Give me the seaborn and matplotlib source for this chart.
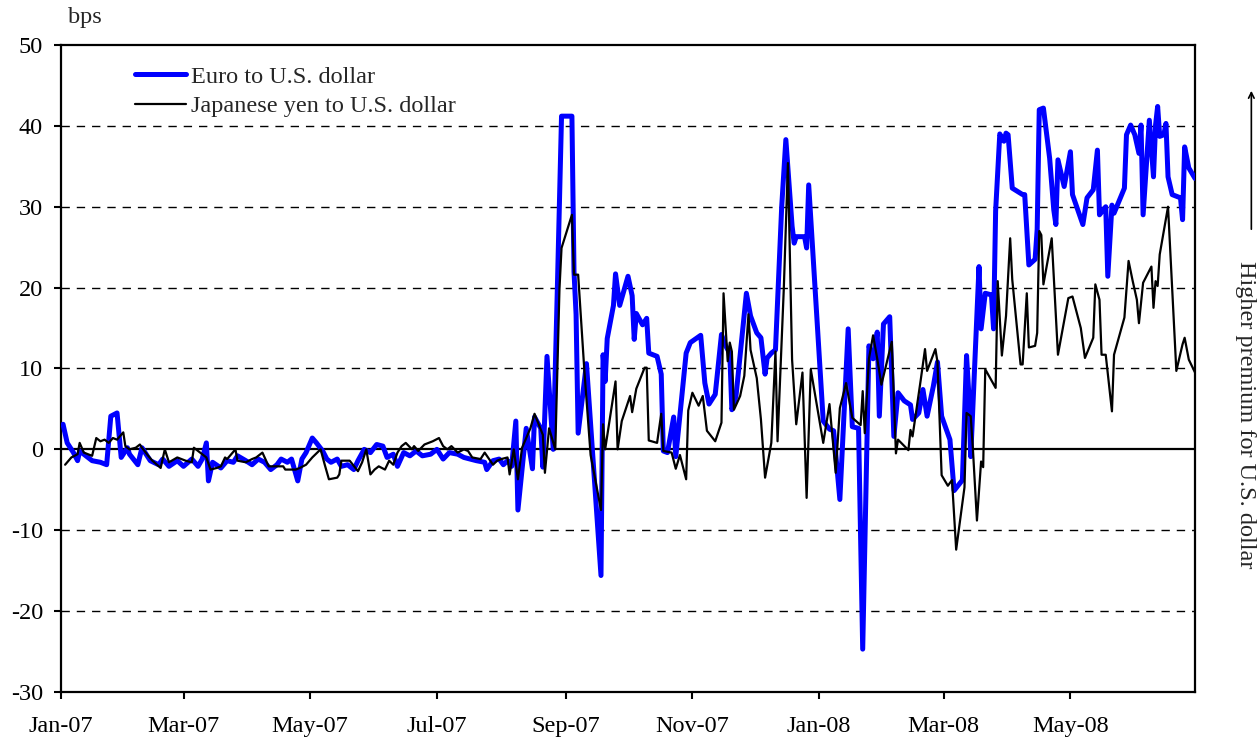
import pandas as pd
import matplotlib.pyplot as plt
import matplotlib.dates as mdates
import seaborn as sns

# Euro to U.S. dollar (bps)
euro_dates = [
    '2007-01-02', '2007-01-04', '2007-01-07', '2007-01-09', '2007-01-10', '2007-01-11', '2007-01-14',
    '2007-01-16', '2007-01-20', '2007-01-23', '2007-01-25', '2007-01-28', '2007-01-30', '2007-02-02',
    '2007-02-03', '2007-02-07', '2007-02-09', '2007-02-13', '2007-02-17', '2007-02-19', '2007-02-22',
    '2007-02-26', '2007-03-01', '2007-03-05', '2007-03-08', '2007-03-10', '2007-03-12', '2007-03-13',
    '2007-03-15', '2007-03-19', '2007-03-22', '2007-03-25', '2007-03-27', '2007-03-31', '2007-04-03',
    '2007-04-06', '2007-04-09', '2007-04-12', '2007-04-15', '2007-04-17', '2007-04-20', '2007-04-22',
    '2007-04-25', '2007-04-27', '2007-04-29', '2007-05-02', '2007-05-04', '2007-05-07', '2007-05-09',
    '2007-05-11', '2007-05-14', '2007-05-16', '2007-05-19', '2007-05-22', '2007-05-24', '2007-05-27',
    '2007-05-30', '2007-06-02', '2007-06-05', '2007-06-07', '2007-06-10', '2007-06-12', '2007-06-15',
    '2007-06-18', '2007-06-21', '2007-06-24', '2007-06-28', '2007-07-01', '2007-07-04', '2007-07-07',
    '2007-07-11', '2007-07-14', '2007-07-17', '2007-07-20', '2007-07-24', '2007-07-25', '2007-07-28',
    '2007-07-31', '2007-08-02', '2007-08-04', '2007-08-06', '2007-08-08', '2007-08-09', '2007-08-13',
    '2007-08-16', '2007-08-17', '2007-08-20', '2007-08-21', '2007-08-23', '2007-08-26', '2007-08-28',
    '2007-08-30', '2007-09-04', '2007-09-05', '2007-09-06', '2007-09-07', '2007-09-11', '2007-09-18',
    '2007-09-19', '2007-09-20', '2007-09-21', '2007-09-24', '2007-09-25', '2007-09-27', '2007-10-01',
    '2007-10-03', '2007-10-04', '2007-10-05', '2007-10-08', '2007-10-10', '2007-10-11', '2007-10-15',
    '2007-10-17', '2007-10-18', '2007-10-20', '2007-10-23', '2007-10-24', '2007-10-29', '2007-10-31',
    '2007-11-05', '2007-11-07', '2007-11-09', '2007-11-12', '2007-11-15', '2007-11-17', '2007-11-19',
    '2007-11-20', '2007-11-22', '2007-11-27', '2007-11-29', '2007-12-02', '2007-12-04', '2007-12-06',
    '2007-12-07', '2007-12-09', '2007-12-11', '2007-12-14', '2007-12-16', '2007-12-19', '2007-12-20',
    '2007-12-21', '2007-12-25', '2007-12-26', '2007-12-27', '2007-12-30', '2008-01-03', '2008-01-06',
    '2008-01-08', '2008-01-11', '2008-01-15', '2008-01-17', '2008-01-20', '2008-01-22', '2008-01-25',
    '2008-01-27', '2008-01-29', '2008-01-30', '2008-02-01', '2008-02-04', '2008-02-06', '2008-02-08',
    '2008-02-11', '2008-02-14', '2008-02-15', '2008-02-18', '2008-02-20', '2008-02-22', '2008-02-25',
    '2008-02-27', '2008-02-29', '2008-03-04', '2008-03-06', '2008-03-10', '2008-03-12', '2008-03-13',
    '2008-03-14', '2008-03-18', '2008-03-19', '2008-03-21', '2008-03-24', '2008-03-25', '2008-03-26',
    '2008-03-28', '2008-03-30', '2008-03-31', '2008-04-01', '2008-04-03', '2008-04-08', '2008-04-09',
    '2008-04-11', '2008-04-14', '2008-04-15', '2008-04-16', '2008-04-18', '2008-04-21', '2008-04-23',
    '2008-04-24', '2008-04-25', '2008-04-28', '2008-05-01', '2008-05-02', '2008-05-07', '2008-05-09',
    '2008-05-12', '2008-05-14', '2008-05-15', '2008-05-18', '2008-05-19', '2008-05-21', '2008-05-22',
    '2008-05-27', '2008-05-28', '2008-05-30', '2008-06-01', '2008-06-03', '2008-06-04', '2008-06-05',
    '2008-06-08', '2008-06-10', '2008-06-11', '2008-06-12', '2008-06-13', '2008-06-15', '2008-06-16',
    '2008-06-17', '2008-06-19', '2008-06-23', '2008-06-24', '2008-06-25', '2008-06-27', '2008-06-30',
]
euro_values = [
    3.1, 0.8, -0.4, -1.4, -0.2, -0.4, -1.0,
    -1.4, -1.6, -1.9, 4.1, 4.5, -1.0, 0.2,
    -0.6, -1.9, 0.2, -1.4, -1.9, -1.2, -2.1,
    -1.4, -2.1, -1.2, -2.1, -1.2, 0.8, -3.9,
    -1.6, -2.3, -1.4, -1.6, -0.8, -1.4, -1.9,
    -1.2, -1.6, -2.5, -1.9, -1.2, -1.6, -1.2,
    -3.9, -1.2, -0.4, 1.4, 0.8, -0.2, -1.2,
    -1.6, -1.2, -2.1, -1.9, -2.5, -1.4, 0.0,
    -0.4, 0.6, 0.4, -1.0, -0.6, -2.1, -0.4,
    -0.8, -0.2, -0.8, -0.6, 0.0, -1.2, -0.4,
    -0.6, -1.0, -1.2, -1.4, -1.6, -2.5, -1.4,
    -1.2, -1.9, -1.4, -2.1, 3.5, -7.5, 2.6,
    -2.4, 4.0, 2.6, -2.2, 11.5, 0.0, 20.0,
    41.2, 41.2, 22.0, 16.7, 2.0, 10.6, -15.6,
    11.7, 8.4, 13.7, 17.8, 21.7, 17.8, 21.4,
    19.0, 13.6, 16.8, 15.4, 16.2, 11.9, 11.5,
    9.3, -0.2, -0.4, 4.0, -0.9, 11.9, 13.2,
    14.1, 8.2, 5.6, 6.8, 14.2, 12.8, 11.9,
    4.9, 6.6, 19.3, 16.5, 14.4, 13.8, 9.3,
    11.3, 11.9, 12.3, 30.0, 38.3, 27.6, 25.5,
    26.3, 26.3, 24.9, 32.7, 20.2, 3.5, 2.5,
    2.3, -6.2, 14.9, 2.8, 2.6, -24.7, 12.8,
    11.2, 14.5, 4.1, 15.5, 16.4, 1.6, 7.0,
    6.0, 5.5, 3.7, 4.5, 7.4, 4.1, 7.8,
    10.8, 4.1, 1.2, -5.1, -3.8, 11.6, 7.2,
    -0.9, 22.6, 14.9, 19.3, 19.1, 14.9, 29.5,
    39.0, 38.1, 39.1, 38.9, 32.3, 31.5, 31.5,
    22.8, 23.5, 27.2, 42.0, 42.2, 36.0, 29.6,
    27.8, 35.8, 32.5, 36.8, 31.5, 27.8, 31.1,
    32.1, 37.0, 29.0, 30.0, 21.4, 30.2, 29.2,
    32.3, 38.9, 40.1, 38.9, 36.6, 40.1, 29.0,
    40.7, 33.7, 40.1, 42.4, 38.7, 38.9, 40.3,
    33.7, 31.5, 31.1, 28.4, 37.4, 34.8, 33.5,
]

# Japanese yen to U.S. dollar (bps)
yen_dates = [
    '2007-01-03', '2007-01-06', '2007-01-09', '2007-01-10', '2007-01-12', '2007-01-14', '2007-01-16',
    '2007-01-18', '2007-01-20', '2007-01-22', '2007-01-24', '2007-01-26', '2007-01-28', '2007-01-31',
    '2007-02-01', '2007-02-03', '2007-02-06', '2007-02-08', '2007-02-09', '2007-02-12', '2007-02-14',
    '2007-02-18', '2007-02-20', '2007-02-22', '2007-02-26', '2007-03-02', '2007-03-05', '2007-03-06',
    '2007-03-09', '2007-03-12', '2007-03-14', '2007-03-17', '2007-03-19', '2007-03-21', '2007-03-22',
    '2007-03-26', '2007-03-27', '2007-03-31', '2007-04-03', '2007-04-05', '2007-04-08', '2007-04-11',
    '2007-04-18', '2007-04-19', '2007-04-24', '2007-04-26', '2007-04-29', '2007-05-02', '2007-05-06',
    '2007-05-08', '2007-05-10', '2007-05-14', '2007-05-15', '2007-05-16', '2007-05-20', '2007-05-24',
    '2007-05-26', '2007-05-28', '2007-05-30', '2007-06-01', '2007-06-03', '2007-06-06', '2007-06-08',
    '2007-06-10', '2007-06-12', '2007-06-14', '2007-06-16', '2007-06-19', '2007-06-20', '2007-06-22',
    '2007-06-25', '2007-06-27', '2007-06-29', '2007-07-02', '2007-07-04', '2007-07-06', '2007-07-08',
    '2007-07-11', '2007-07-14', '2007-07-16', '2007-07-18', '2007-07-22', '2007-07-24', '2007-07-28',
    '2007-07-30', '2007-08-01', '2007-08-04', '2007-08-05', '2007-08-07', '2007-08-09', '2007-08-11',
    '2007-08-15', '2007-08-17', '2007-08-21', '2007-08-22', '2007-08-24', '2007-08-27', '2007-08-29',
    '2007-08-30', '2007-09-04', '2007-09-05', '2007-09-07', '2007-09-10', '2007-09-13', '2007-09-18',
    '2007-09-19', '2007-09-20', '2007-09-25', '2007-09-26', '2007-09-28', '2007-10-02', '2007-10-03',
    '2007-10-05', '2007-10-09', '2007-10-10', '2007-10-11', '2007-10-15', '2007-10-17', '2007-10-18',
    '2007-10-22', '2007-10-24', '2007-10-26', '2007-10-29', '2007-10-30', '2007-11-01', '2007-11-04',
    '2007-11-06', '2007-11-08', '2007-11-12', '2007-11-15', '2007-11-16', '2007-11-18', '2007-11-19',
    '2007-11-20', '2007-11-21', '2007-11-24', '2007-11-26', '2007-11-28', '2007-11-29', '2007-12-02',
    '2007-12-04', '2007-12-06', '2007-12-09', '2007-12-11', '2007-12-12', '2007-12-15', '2007-12-17',
    '2007-12-19', '2007-12-21', '2007-12-24', '2007-12-26', '2007-12-28', '2008-01-03', '2008-01-06',
    '2008-01-09', '2008-01-11', '2008-01-14', '2008-01-17', '2008-01-21', '2008-01-22', '2008-01-23',
    '2008-01-25', '2008-01-27', '2008-01-29', '2008-01-31', '2008-02-05', '2008-02-07', '2008-02-08',
    '2008-02-13', '2008-02-14', '2008-02-15', '2008-02-19', '2008-02-21', '2008-02-22', '2008-02-26',
    '2008-02-27', '2008-02-29', '2008-03-03', '2008-03-05', '2008-03-07', '2008-03-11', '2008-03-12',
    '2008-03-14', '2008-03-15', '2008-03-17', '2008-03-19', '2008-03-20', '2008-03-21', '2008-03-26',
    '2008-03-27', '2008-03-29', '2008-03-31', '2008-04-02', '2008-04-03', '2008-04-07', '2008-04-08',
    '2008-04-10', '2008-04-11', '2008-04-14', '2008-04-15', '2008-04-16', '2008-04-17', '2008-04-18',
    '2008-04-22', '2008-04-25', '2008-04-30', '2008-05-02', '2008-05-06', '2008-05-08', '2008-05-12',
    '2008-05-13', '2008-05-15', '2008-05-16', '2008-05-18', '2008-05-21', '2008-05-22', '2008-05-27',
    '2008-05-29', '2008-05-31', '2008-06-02', '2008-06-03', '2008-06-05', '2008-06-09', '2008-06-10',
    '2008-06-11', '2008-06-12', '2008-06-13', '2008-06-17', '2008-06-21', '2008-06-24', '2008-06-25',
    '2008-06-27', '2008-06-30',
]
yen_values = [
    -1.9, -1.0, -0.6, 0.8, -0.4, -0.6, -0.8,
    1.4, 1.0, 1.2, 0.8, 1.4, 1.2, 2.1,
    0.4, 0.0, 0.2, 0.6, 0.2, -0.8, -1.4,
    -2.3, 0.0, -1.6, -1.0, -1.4, -1.6, 0.2,
    -0.4, -1.0, -2.5, -2.3, -2.1, -1.0, -1.2,
    0.0, -1.4, -1.6, -1.2, -1.0, -0.4, -2.1,
    -2.1, -2.5, -2.5, -2.3, -1.9, -1.0, 0.0,
    -1.9, -3.7, -3.5, -3.1, -1.4, -1.4, -2.7,
    -1.6, 0.0, -3.1, -2.5, -2.1, -2.5, -1.4,
    -1.9, -0.4, 0.4, 0.8, 0.0, 0.4, -0.2,
    0.6, 0.8, 1.0, 1.4, 0.4, 0.0, 0.4,
    -0.4, 0.0, -0.2, -1.0, -1.2, -0.4, -1.9,
    -1.4, -1.2, -1.0, -3.1, 0.0, -3.7, 0.2,
    2.6, 4.4, 1.8, -2.9, 2.6, 0.0, 19.8,
    24.9, 29.0, 21.6, 21.6, 9.7, -0.7, -7.5,
    3.1, 0.0, 8.4, 0.0, 3.5, 6.6, 4.6,
    7.5, 10.1, 10.1, 1.1, 0.8, 4.4, -0.2,
    -0.4, -2.4, -0.7, -3.7, 4.8, 7.0, 5.4,
    6.6, 2.3, 1.0, 3.3, 19.3, 10.9, 13.2,
    12.1, 4.9, 6.6, 9.1, 16.7, 12.3, 8.8,
    3.7, -3.5, 0.8, 12.1, 1.0, 19.8, 35.4,
    11.1, 3.1, 9.5, -6.0, 9.9, 0.8, 5.6,
    -2.9, 5.1, 8.2, 3.9, 3.0, 7.2, 2.0,
    11.2, 14.1, 11.2, 8.0, 13.3, -0.5, 1.2,
    -0.1, 2.4, 1.6, 8.7, 12.4, 9.7, 12.4,
    10.8, -3.2, -4.5, -3.8, -12.4, -4.7, 4.5,
    4.1, 0.3, -8.8, -1.5, -2.2, 9.9, 7.6,
    20.8, 11.6, 16.5, 26.1, 21.0, 10.5, 10.5,
    19.3, 12.6, 12.8, 14.4, 27.0, 26.5, 20.4,
    26.1, 11.7, 18.7, 18.9, 15.0, 11.3, 13.8,
    20.4, 18.5, 11.7, 11.7, 4.7, 11.7, 16.3,
    23.3, 20.8, 18.5, 15.6, 20.6, 22.6, 17.5,
    20.8, 20.2, 24.1, 30.0, 9.7, 13.0, 13.8,
    11.1, 9.5,
]

df_euro = pd.DataFrame({'date': pd.to_datetime(euro_dates), 'bps': euro_values})
df_yen = pd.DataFrame({'date': pd.to_datetime(yen_dates), 'bps': yen_values})

sns.set_style('white')
plt.rcParams['font.family'] = ['Liberation Serif', 'DejaVu Serif']
plt.rcParams['axes.unicode_minus'] = False

fs = 17.5

fig = plt.figure(figsize=(12.57, 7.40), dpi=100)
ax = fig.add_axes([0.0485, 0.0649, 0.9022, 0.8743])

# dashed grid lines, solid zero line
for g in [-20, -10, 10, 20, 30, 40]:
    ax.axhline(g, color='black', lw=1.0, ls=(0, (6, 5)), zorder=1)
ax.axhline(0, color='black', lw=1.6, zorder=1)

sns.lineplot(data=df_euro, x='date', y='bps', color='#0000FF', lw=3.6,
             estimator=None, label='Euro to U.S. dollar', ax=ax, zorder=3)
sns.lineplot(data=df_yen, x='date', y='bps', color='black', lw=1.6,
             estimator=None, label='Japanese yen to U.S. dollar', ax=ax, zorder=4)

ax.set_xlim(pd.Timestamp('2007-01-01'), pd.Timestamp('2008-06-30'))
ax.set_ylim(-30, 50)
ax.set_yticks(range(-30, 51, 10))
ax.xaxis.set_major_locator(mdates.MonthLocator(bymonth=[1, 3, 5, 7, 9, 11]))
ax.xaxis.set_major_formatter(mdates.DateFormatter('%b-%y'))
ax.set_xlabel('')
ax.set_ylabel('')
ax.tick_params(axis='both', labelsize=fs, direction='out', length=5, width=1.5,
               color='black', labelcolor='black', bottom=True, left=True)
ax.tick_params(axis='y', pad=8)
ax.tick_params(axis='x', pad=12)
for s in ax.spines.values():
    s.set_color('black')
    s.set_linewidth(1.6)

ax.legend(loc='upper left', bbox_to_anchor=(0.057, 0.983), frameon=False, fontsize=fs,
          handlelength=2.1, handletextpad=0.2, labelspacing=0.3, borderaxespad=0)

fig.text(0.054, 0.976, 'bps', fontsize=fs, ha='left', va='center')
fig.text(0.991, 0.44, 'Higher premium for U.S. dollar', fontsize=fs,
         rotation=-90, ha='center', va='center')
ax.annotate('', xy=(0.9955, 1 - 88 / 740), xytext=(0.9955, 1 - 232 / 740),
            xycoords='figure fraction', textcoords='figure fraction',
            arrowprops=dict(arrowstyle='->', lw=1.2, color='black'))

fig.savefig('out.png', dpi=100)
